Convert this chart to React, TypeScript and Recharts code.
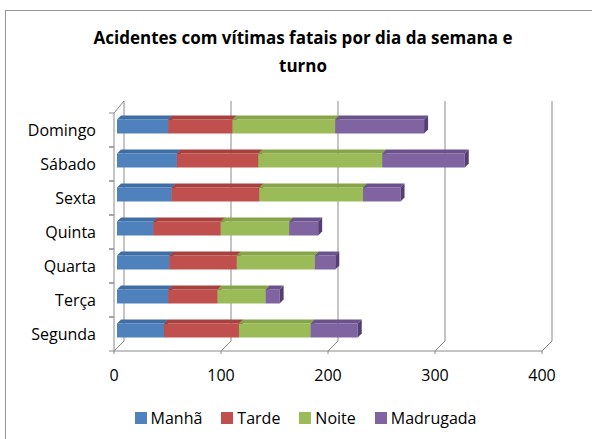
import React from "react"
import { BarChart, Bar, XAxis, YAxis, CartesianGrid, Legend } from "recharts"

const days = ["Domingo", "Sábado", "Sexta", "Quinta", "Quarta", "Terça", "Segunda"]
const manha = [48, 56, 51, 34, 49, 48, 44]
const tarde = [60, 76, 82, 63, 63, 46, 70]
const noite = [96, 116, 97, 64, 73, 45, 67]
const madrugada = [83, 77, 35, 27, 19, 13, 44]
const xTicks = [0, 100, 200, 300, 400]

const SERIES = [
  { key: "manha", name: "Manhã", color: "#4F81BD", top: "#3f6ea6", side: "#2f5584" },
  { key: "tarde", name: "Tarde", color: "#C0504D", top: "#a8403d", side: "#8a302e" },
  { key: "noite", name: "Noite", color: "#9BBB59", top: "#86a549", side: "#6b863a" },
  { key: "madrugada", name: "Madrugada", color: "#8064A2", top: "#6c528c", side: "#553f70" },
]

const data = days.map((day, i) => ({
  day,
  manha: manha[i],
  tarde: tarde[i],
  noite: noite[i],
  madrugada: madrugada[i],
}))

const FONT = "'Open Sans', sans-serif"
const GRID = "#8a8a8a"
const DEPTH = 4

function make3DBar(color: string, top: string, side: string) {
  return (props: any) => {
    const { width, height } = props
    if (!width || width <= 0) return <g />
    const x = props.x + 3
    const y = props.y - 3.5
    const d = DEPTH
    return (
      <g>
        <rect x={x} y={y} width={width} height={height} fill={color} />
        <polygon
          points={`${x},${y} ${x + d},${y - d} ${x + width + d},${y - d} ${x + width},${y}`}
          fill={top}
        />
        <polygon
          points={`${x + width},${y} ${x + width + d},${y - d} ${x + width + d},${y + height - d} ${x + width},${y + height}`}
          fill={side}
        />
      </g>
    )
  }
}

// back wall gridline + floor diagonal
function gridLine(props: any) {
  const { x1, y1, y2, index, key } = props
  const bx = x1 + 10
  const pts = index === 0
    ? `${x1},${y1} ${bx},${y1 - 12} ${bx},${y2 - 10} ${x1},${y2}`
    : `${bx},${y1 - 12} ${bx},${y2 - 10} ${x1},${y2}`
  return <polyline key={key} points={pts} fill="none" stroke={GRID} strokeWidth={1} />
}

function DayTick(props: any) {
  const { x, y, payload } = props
  const half = payload && payload.offset ? payload.offset : 17
  const ax = x + 18
  return (
    <g>
      <line x1={ax - 5} x2={ax} y1={y - half} y2={y - half} stroke={GRID} />
      <line x1={ax - 5} x2={ax} y1={y + half} y2={y + half} stroke={GRID} />
      <text x={x} y={y} dy="0.36em" textAnchor="end" fill="#000" fontSize={16} fontFamily={FONT}>
        {payload.value}
      </text>
    </g>
  )
}

function LegendContent() {
  return (
    <div style={{ display: "flex", justifyContent: "center", paddingLeft: 38, height: 24, alignItems: "center" }}>
      {SERIES.map((s) => (
        <div key={s.key} style={{ display: "flex", alignItems: "center", marginRight: 19 }}>
          <span style={{ width: 12, height: 12, background: s.color, marginRight: 4, display: "inline-block" }} />
          <span style={{ fontSize: 16, fontFamily: FONT, color: "#000" }}>{s.name}</span>
        </div>
      ))}
    </div>
  )
}

export default function App() {
  return (
    <div style={{ position: "absolute", left: 0, top: 0, width: 592, height: 439, background: "#fff", overflow: "hidden" }}>
      <div
        style={{
          position: "absolute",
          left: 5,
          top: 10,
          width: 600,
          height: 440,
          borderTop: "1px solid #969696",
          borderLeft: "1px solid #969696",
        }}
      />
      <div
        style={{
          position: "absolute",
          left: 73,
          top: 24,
          width: 460,
          textAlign: "center",
          fontFamily: FONT,
          fontWeight: 700,
          fontSize: 17,
          lineHeight: "27.5px",
          color: "#000",
        }}
      >
        Acidentes com vítimas fatais por dia da semana e
        <br />
        turno
      </div>
      <BarChart
        width={592}
        height={439}
        data={data}
        layout="vertical"
        barSize={14}
        margin={{ top: 113, right: 50, bottom: 9, left: 0 }}
      >
        <CartesianGrid vertical={gridLine} horizontal={false} />
        <XAxis
          type="number"
          domain={[0, 400]}
          ticks={xTicks}
          axisLine={{ stroke: GRID }}
          tickLine={{ stroke: GRID }}
          tickSize={3}
          tickMargin={16}
          height={55}
          tick={{ fill: "#000", fontSize: 16, fontFamily: FONT }}
        />
        <YAxis
          type="category"
          dataKey="day"
          width={114}
          axisLine={{ stroke: GRID }}
          tickLine={false}
          tickSize={0}
          tickMargin={18}
          tick={<DayTick />}
        />
        <Legend verticalAlign="bottom" content={<LegendContent />} wrapperStyle={{ left: 0, width: 592 }} />
        {SERIES.map((s) => (
          <Bar
            key={s.key}
            dataKey={s.key}
            name={s.name}
            stackId="a"
            fill={s.color}
            isAnimationActive={false}
            shape={make3DBar(s.color, s.top, s.side)}
          />
        ))}
      </BarChart>
    </div>
  )
}
